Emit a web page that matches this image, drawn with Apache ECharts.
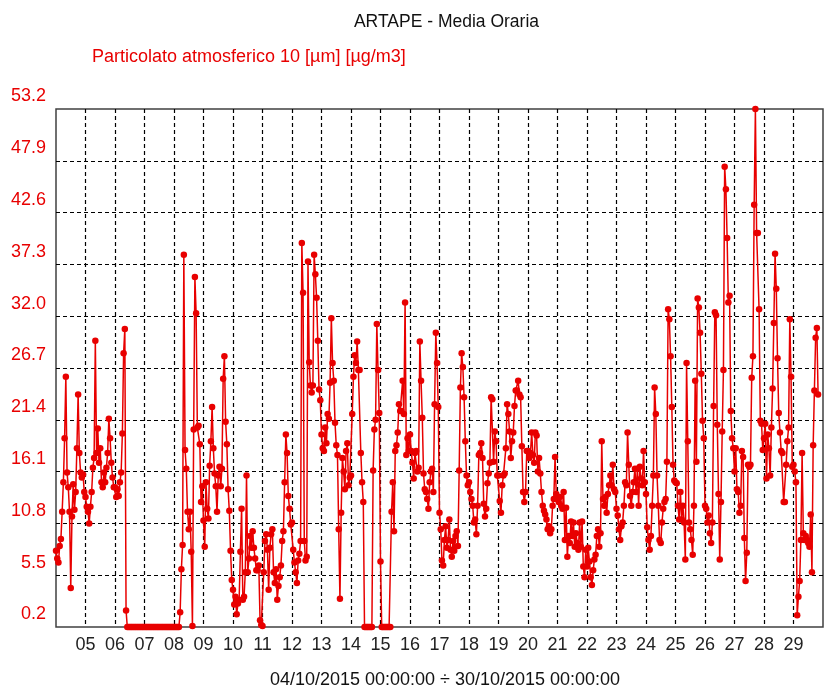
<!DOCTYPE html>
<html>
<head>
<meta charset="utf-8">
<script src="https://cdn.jsdelivr.net/npm/echarts@6/dist/echarts.min.js"></script>
<style>
  html, body { margin: 0; padding: 0; background: #ffffff; }
  #chart { width: 826px; height: 687px; }
</style>
</head>
<body>
<div id="chart"></div>
<script>
// Hourly PM10 averages, one array of 24 values per day (04/10 .. 29/10/2015)
const dayLabels = ['04','05','06','07','08','09','10','11','12','13','14','15','16',
                   '17','18','19','20','21','22','23','24','25','26','27','28','29'];

const d04 = [8.0, 7.2, 6.8, 8.5, 9.2, 12.0, 15.0, 19.5, 25.8, 16.0, 14.5, 12.0, 4.2, 11.5, 14.8, 12.2, 14.0, 18.5, 24.0, 18.0, 16.0, 15.5, 15.8, 14.0];
const d05 = [13.5, 12.5, 12.0, 10.8, 12.5, 14.0, 16.5, 17.5, 29.5, 18.0, 20.5, 17.0, 18.5, 15.0, 14.5, 16.0, 15.0, 16.5, 18.0, 21.5, 19.5, 17.0, 15.5, 14.5];
const d06 = [14.5, 13.5, 14.3, 13.6, 15.0, 16.0, 20.0, 28.2, 30.7, 1.9, 0.2, 0.2, 0.2, 0.2, 0.2, 0.2, 0.2, 0.2, 0.2, 0.2, 0.2, 0.2, 0.2, 0.2];
const d07 = [0.2, 0.2, 0.2, 0.2, 0.2, 0.2, 0.2, 0.2, 0.2, 0.2, 0.2, 0.2, 0.2, 0.2, 0.2, 0.2, 0.2, 0.2, 0.2, 0.2, 0.2, 0.2, 0.2, 0.2];
const d08 = [0.2, 0.2, 0.2, 0.2, 0.2, 1.7, 6.1, 8.6, 38.3, 18.3, 16.4, 12.0, 10.2, 12.0, 7.9, 0.3, 20.4, 36.0, 32.3, 20.6, 20.8, 18.9, 13.0, 14.6];
const d09 = [11.1, 8.4, 15.0, 12.3, 11.3, 16.7, 19.2, 22.7, 18.5, 15.9, 14.6, 12.0, 15.7, 16.6, 14.6, 16.4, 25.6, 27.9, 21.2, 18.9, 14.3, 12.1, 8.0, 5.0];
const d10 = [4.0, 2.5, 3.3, 1.5, 2.6, 3.0, 7.9, 12.3, 3.0, 3.3, 5.8, 15.7, 5.8, 7.2, 9.5, 8.3, 10.0, 8.3, 7.2, 6.0, 6.0, 6.5, 0.9, 0.4];
const d11 = [0.3, 5.8, 9.0, 9.7, 8.1, 4.0, 8.3, 9.7, 10.2, 5.8, 4.7, 6.1, 3.0, 4.4, 5.3, 6.5, 9.0, 10.0, 15.0, 19.9, 18.0, 13.6, 12.3, 10.7];
const d12 = [10.9, 8.1, 6.8, 5.8, 4.7, 7.0, 7.7, 9.0, 39.5, 34.4, 9.0, 7.0, 7.4, 37.6, 27.3, 24.9, 24.2, 24.9, 38.3, 36.3, 33.9, 29.5, 24.5, 23.4];
const d13 = [19.9, 18.5, 18.2, 20.6, 19.0, 22.0, 21.5, 25.2, 31.8, 27.2, 25.4, 21.1, 18.8, 17.8, 10.2, 3.1, 11.9, 17.5, 16.1, 14.3, 18.2, 19.0, 14.7, 15.5];
const d14 = [15.7, 22.0, 25.8, 28.0, 27.2, 29.4, 26.5, 26.5, 18.0, 15.0, 13.0, 0.2, 0.2, 0.2, 0.2, 0.2, 0.2, 0.2, 16.2, 20.4, 21.4, 31.2, 26.5, 22.1];
const d15 = [6.9, 0.2, 0.2, 0.2, 0.2, 0.2, 0.2, 0.2, 0.2, 12.0, 15.0, 10.0, 18.2, 18.8, 20.1, 23.0, 22.3, 22.3, 25.4, 22.0, 33.4, 17.8, 19.5, 18.2];
const d16 = [19.9, 18.2, 17.0, 15.4, 18.0, 18.2, 16.1, 16.5, 29.4, 25.4, 21.6, 15.9, 14.3, 14.0, 13.3, 12.3, 15.0, 16.1, 16.4, 14.0, 23.0, 30.3, 27.2, 22.7];
const d17 = [11.9, 10.2, 7.0, 6.5, 9.1, 10.5, 8.3, 9.1, 11.2, 8.1, 7.4, 9.0, 8.0, 9.5, 10.0, 8.5, 16.2, 24.7, 28.2, 26.8, 23.7, 19.2, 15.7, 14.7];
const d18 = [15.0, 14.0, 13.3, 12.6, 10.9, 11.2, 9.7, 12.6, 17.8, 18.0, 19.0, 17.5, 12.8, 11.5, 12.3, 14.9, 15.9, 17.0, 23.7, 23.5, 17.1, 20.2, 19.2, 15.7];
const d19 = [15.7, 13.1, 11.9, 14.7, 15.7, 15.9, 18.5, 23.0, 22.0, 20.2, 17.5, 19.2, 20.1, 22.8, 24.4, 24.4, 25.4, 24.0, 23.7, 18.7, 14.0, 13.0, 14.0, 18.2];
const d20 = [18.2, 17.5, 18.0, 20.1, 17.8, 17.0, 20.1, 19.8, 16.1, 17.5, 15.9, 14.0, 12.6, 12.1, 11.7, 11.2, 10.2, 10.5, 9.8, 10.2, 12.6, 13.3, 17.6, 13.8];
const d21 = [13.3, 13.0, 13.5, 12.6, 12.3, 14.0, 9.1, 12.4, 7.4, 9.5, 8.8, 11.0, 9.5, 10.9, 8.4, 9.8, 8.8, 8.1, 10.9, 8.4, 11.0, 6.4, 5.3, 8.1];
const d22 = [6.4, 8.3, 6.9, 5.3, 4.5, 6.0, 7.1, 7.6, 9.5, 10.2, 8.4, 9.8, 19.2, 13.3, 12.6, 13.5, 11.9, 13.8, 14.7, 15.7, 14.7, 16.8, 14.3, 14.0];
const d23 = [12.3, 11.6, 10.2, 9.1, 10.5, 10.9, 12.6, 15.0, 14.7, 20.1, 16.8, 13.6, 12.6, 14.0, 15.0, 16.4, 14.0, 16.4, 12.6, 16.6, 15.4, 14.7, 18.2, 15.0];
const d24 = [13.8, 10.4, 9.1, 8.1, 9.5, 12.6, 15.7, 24.7, 22.0, 15.7, 12.6, 9.1, 8.8, 10.9, 12.3, 13.0, 13.3, 17.1, 32.7, 31.7, 27.9, 22.7, 16.8, 15.2];
const d25 = [15.0, 14.9, 12.6, 11.2, 14.0, 11.2, 12.6, 10.9, 7.1, 27.2, 19.2, 10.9, 10.2, 9.1, 7.6, 12.6, 25.4, 17.1, 33.8, 32.9, 30.3, 26.1, 21.3, 19.5];
const d26 = [12.6, 12.3, 10.9, 11.6, 9.8, 8.8, 10.9, 22.8, 32.4, 32.1, 20.9, 13.8, 7.1, 13.0, 20.2, 26.5, 47.3, 45.0, 40.0, 33.4, 34.1, 22.3, 19.5, 18.5];
const d27 = [16.1, 18.5, 14.3, 14.0, 11.9, 12.6, 18.2, 17.6, 9.3, 4.9, 7.8, 16.8, 16.6, 16.8, 25.7, 27.9, 43.4, 53.2, 40.5, 40.5, 32.7, 21.3, 21.0, 18.3];
const d28 = [19.5, 21.0, 15.4, 19.9, 18.5, 15.7, 20.6, 24.6, 31.3, 38.4, 34.8, 27.7, 22.1, 20.1, 18.2, 18.0, 13.0, 13.0, 16.8, 19.2, 20.6, 31.7, 25.8, 16.6];
const d29 = [16.8, 16.1, 15.0, 1.4, 3.3, 4.9, 9.1, 18.0, 9.8, 9.1, 9.5, 9.1, 8.8, 8.4, 11.7, 5.8, 18.8, 24.4, 29.8, 30.8, 24.0];

const dailyValues = [d04, d05, d06, d07, d08, d09, d10, d11, d12, d13, d14, d15, d16,
                     d17, d18, d19, d20, d21, d22, d23, d24, d25, d26, d27, d28, d29];

// y-axis scale: 0.2 .. 53.2 in steps of 5.3
const yMin = 0.2, yMax = 53.2, yStep = 5.3;
// x-axis: hours from 04/10/2015 00:00 to 30/10/2015 00:00
const hoursTotal = 26 * 24;

const titleText = 'ARTAPE - Media Oraria';
const seriesName = 'Particolato atmosferico 10 [µm] [µg/m3]';
const periodText = '04/10/2015 00:00:00 ÷ 30/10/2015 00:00:00';

// [hour offset, value] pairs
const points = [];
dailyValues.forEach((vals, d) => {
  vals.forEach((v, h) => points.push([d * 24 + h, v]));
});

const RED = '#e80000';
const FONT = '"Liberation Sans", Arial, sans-serif';

const chart = echarts.init(document.getElementById('chart'), null, { renderer: 'canvas' });

chart.setOption({
  animation: false,
  backgroundColor: '#ffffff',
  grid: {
    left: 56,
    top: 109,
    width: 776.5,
    height: 518,
    show: true,
    borderColor: '#404040',
    borderWidth: 1.5,
    backgroundColor: 'transparent'
  },
  xAxis: {
    type: 'value',
    min: 0,
    max: hoursTotal,
    interval: 24,
    axisLine: { show: false },
    axisTick: { show: false },
    axisLabel: {
      margin: 9,
      color: '#222222',
      fontFamily: FONT,
      fontSize: 18,
      formatter: v => {
        if (v <= 0 || v >= hoursTotal) return '';
        return dayLabels[Math.round(v / 24)];
      }
    },
    splitLine: {
      show: true,
      showMinLine: false,
      showMaxLine: false,
      lineStyle: { color: '#000000', width: 1.2, type: [4, 3] }
    }
  },
  yAxis: {
    type: 'value',
    min: yMin,
    max: yMax,
    interval: yStep,
    axisLine: { show: false },
    axisTick: { show: false },
    axisLabel: {
      margin: 10,
      color: RED,
      fontFamily: FONT,
      fontSize: 18,
      verticalAlign: 'bottom',
      lineHeight: 25,
      formatter: v => v.toFixed(1)
    },
    splitLine: {
      show: true,
      showMinLine: false,
      showMaxLine: false,
      lineStyle: { color: '#000000', width: 1.2, type: [4, 3] }
    }
  },
  series: [{
    name: seriesName,
    type: 'line',
    data: points,
    showSymbol: true,
    showAllSymbol: true,
    symbol: 'circle',
    symbolSize: 6.5,
    itemStyle: { color: RED },
    lineStyle: { color: RED, width: 1.5 },
    z: 3
  }],
  graphic: [
    {
      type: 'text', x: 446.5, y: 22,
      style: { text: titleText, font: '17.5px ' + FONT, fill: '#111111', align: 'center', verticalAlign: 'middle' }
    },
    {
      type: 'text', x: 92, y: 57,
      style: { text: seriesName, font: '18px ' + FONT, fill: RED, align: 'left', verticalAlign: 'middle' }
    },
    {
      type: 'text', x: 445, y: 680,
      style: { text: periodText, font: '18px ' + FONT, fill: '#111111', align: 'center', verticalAlign: 'middle' }
    }
  ]
});
</script>
</body>
</html>
